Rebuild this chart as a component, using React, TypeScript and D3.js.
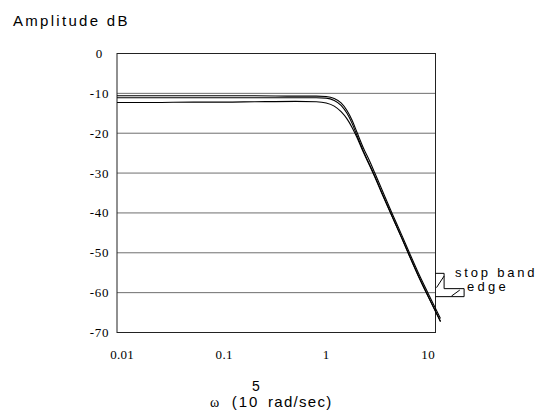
import React from "react";
import * as d3 from "d3";

const freq = [0.0089, 0.02, 0.05, 0.1, 0.2, 0.5, 0.8, 1.0, 1.2, 1.4, 1.6, 1.8, 2.0, 2.3, 2.7, 3.0, 3.5, 4.5, 5.5, 6.5, 8, 10, 13.2];
const dbA = [-10.6, -10.6, -10.6, -10.6, -10.6, -10.7, -10.7, -10.8, -11.3, -12.4, -14.3, -16.8, -19.7, -23.5, -27.3, -30, -34, -40.5, -45.5, -49.8, -55, -60.2, -66.5];
const dbB = [-11.1, -11.1, -11.1, -11.1, -11.1, -11.1, -11.1, -11.2, -11.8, -13.0, -15.0, -17.6, -20.5, -24.3, -28.2, -30.8, -34.8, -41.2, -46.2, -50.5, -55.7, -60.9, -67.2];
const dbC = [-12.3, -12.3, -12.2, -12.2, -12.1, -12.0, -12.1, -12.4, -13.2, -14.6, -16.4, -18.6, -21.0, -24.6, -28.4, -31.0, -35.0, -41.3, -46.3, -50.6, -55.8, -61.0, -67.3];
const series = [dbA, dbB, dbC];

const yTicks = [0, -10, -20, -30, -40, -50, -60, -70];
const yTickLabels = ["0", "-10", "-20", "-30", "-40", "-50", "-60", "-70"];
const xTicks = [0.01, 0.1, 1, 10];
const xTickLabels = ["0.01", "0.1", "1", "10"];
const stopBandDb = -60;

const W = 540;
const H = 415;
const left = 117;
const right = 435.5;
const top = 53.5;
const bottom = 332.5;

export default function App() {
  const x = d3.scaleLog().domain([0.0089, 11.8]).range([left, right]);
  const y = d3.scaleLinear().domain([-70, 0]).range([bottom, top]);
  const line = d3
    .line<number>()
    .x((_, i) => x(freq[i]))
    .y((d) => y(d))
    .curve(d3.curveMonotoneX);

  const mx = x(11.8);
  const my = y(stopBandDb);
  const serif = "'Liberation Serif', 'Times New Roman', serif";
  const sans = "'Liberation Sans', Arial, sans-serif";

  return (
    <svg width={W} height={H} style={{ position: "absolute", left: 0, top: 0, background: "#fff" }}>
      <text x={13} y={26} fontFamily={sans} fontSize={15} letterSpacing={2.3} fill="#000">
        Amplitude dB
      </text>
      {yTicks
        .filter((t) => t !== 0 && t !== -70)
        .map((t) => (
          <line key={t} x1={left} x2={right} y1={y(t)} y2={y(t)} stroke="#6e6e6e" strokeWidth={1} />
        ))}
      <rect x={left} y={top} width={right - left} height={bottom - top} fill="none" stroke="#222" strokeWidth={1} />
      {yTicks.map((t, i) => (
        <text
          key={t}
          x={99.5}
          y={y(t)}
          dy="0.35em"
          textAnchor="middle"
          fontFamily={serif}
          fontSize={13}
          letterSpacing={0.8}
          fill="#000"
        >
          {yTickLabels[i]}
        </text>
      ))}
      {xTicks.map((t, i) => (
        <text key={t} x={x(t)} y={359} textAnchor="middle" fontFamily={serif} fontSize={13} letterSpacing={0.3} fill="#000">
          {xTickLabels[i]}
        </text>
      ))}
      {series.map((s, i) => (
        <path key={i} d={line(s) || ""} fill="none" stroke="#000" strokeWidth={1.1} />
      ))}
      <g fill="none" stroke="#000" strokeWidth={1}>
        <path
          d={`M${mx},${my - 19.3} H${mx + 8.6} V${my - 4} H${mx + 28.6} V${my + 4} H${mx}`}
        />
        <line x1={mx + 1} y1={my - 5} x2={mx + 8.6} y2={my - 16.6} />
        <line x1={mx + 16} y1={my + 3.4} x2={mx + 24.3} y2={my - 2.6} />
      </g>
      <text x={455} y={276.5} fontFamily={sans} fontSize={13} letterSpacing={2.8} fill="#000">
        stop band
      </text>
      <text x={467} y={290.5} fontFamily={sans} fontSize={13} letterSpacing={3.3} fill="#000">
        edge
      </text>
      <text x={210} y={406.7} fontFamily={serif} fontSize={14} fill="#000">
        ω
      </text>
      <text x={231.7} y={406.7} fontFamily={sans} fontSize={15} letterSpacing={2} fill="#000">
        (10
      </text>
      <text x={252} y={391} fontFamily={sans} fontSize={14} fill="#000">
        5
      </text>
      <text x={268} y={406.7} fontFamily={sans} fontSize={15} letterSpacing={1.3} fill="#000">
        rad/sec)
      </text>
    </svg>
  );
}
